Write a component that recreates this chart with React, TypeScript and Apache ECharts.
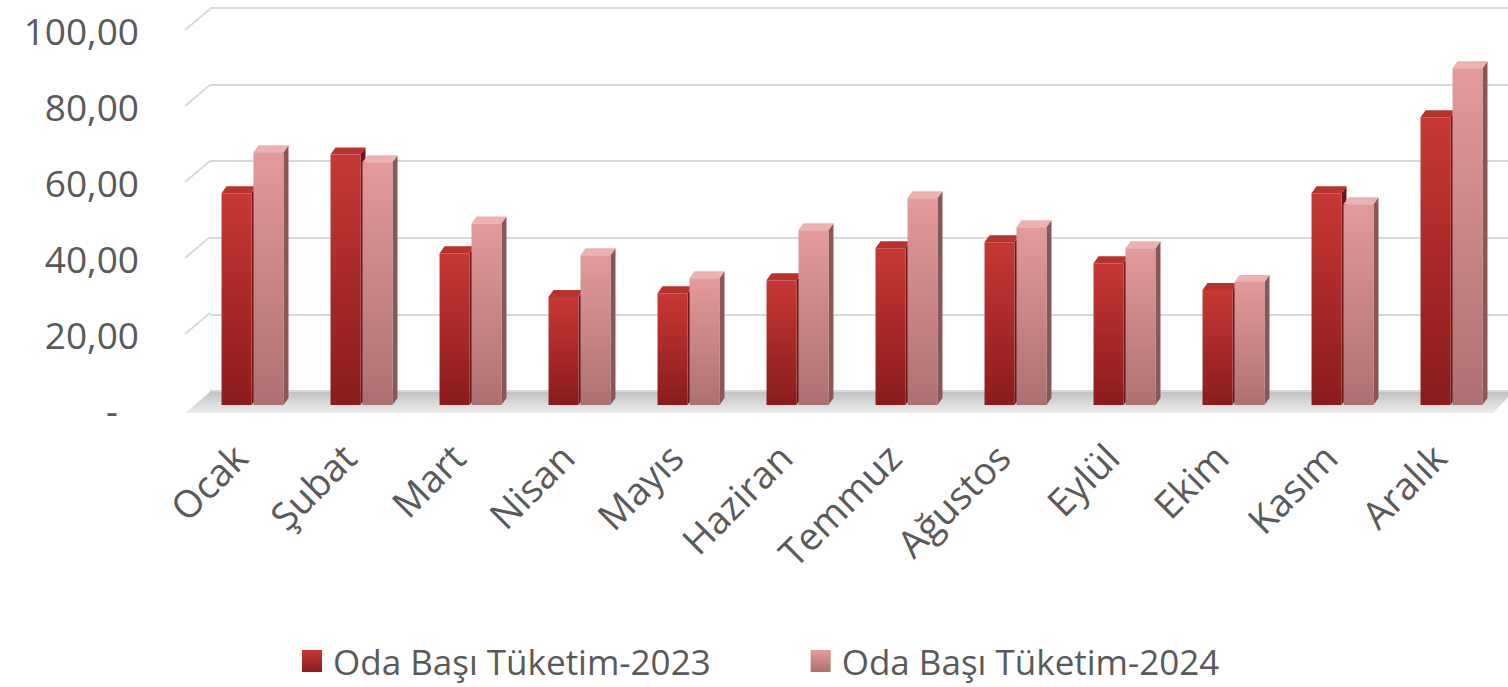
import React, { useEffect, useRef } from "react";
import * as echarts from "echarts";

const months = ["Ocak", "Şubat", "Mart", "Nisan", "Mayıs", "Haziran", "Temmuz", "Ağustos", "Eylül", "Ekim", "Kasım", "Aralık"];
const values2023 = [55.3, 65.4, 39.6, 28.2, 29.2, 32.6, 40.9, 42.5, 37.0, 30.0, 55.3, 75.1];
const values2024 = [66.0, 63.4, 47.4, 39.1, 33.1, 45.6, 54.0, 46.4, 40.9, 32.1, 52.4, 87.9];
const seriesNames = ["Oda Başı Tüketim-2023", "Oda Başı Tüketim-2024"];
const yTicks = [0, 20, 40, 60, 80, 100];

const FONT = "Open Sans";
const TEXT = "#595959";

const palettes = [
  { frontTop: "#c63834", frontBottom: "#8a1c1c", top: "#b8322e", side: "#6d1616" },
  { frontTop: "#e39a9a", frontBottom: "#ad7070", top: "#ecb2b2", side: "#8a5656" },
];

const vgrad = (a: string, b: string) => ({
  type: "linear", x: 0, y: 0, x2: 0, y2: 1,
  colorStops: [{ offset: 0, color: a }, { offset: 1, color: b }],
});

function makeBarRender(s: number) {
  return (params: any, api: any) => {
    const ci = api.value(0);
    const v = api.value(1);
    const top = api.coord([ci, v]);
    const base = api.coord([ci, 0]);
    const catW = api.size([1, 0])[0];
    const bw = catW * 0.275;
    const c = top[0];
    const x0 = s === 0 ? c - bw - 1 : c + 1;
    const x1 = x0 + bw;
    const dx = 5;
    const dy = 7;
    const p = palettes[s];
    return {
      type: "group",
      children: [
        {
          type: "polygon",
          shape: { points: [[x1, top[1]], [x1 + dx, top[1] - dy], [x1 + dx, base[1] - dy], [x1, base[1]]] },
          style: { fill: p.side },
        },
        {
          type: "polygon",
          shape: { points: [[x0, top[1]], [x0 + dx, top[1] - dy], [x1 + dx, top[1] - dy], [x1, top[1]]] },
          style: { fill: p.top },
        },
        {
          type: "rect",
          shape: { x: x0, y: top[1], width: bw, height: base[1] - top[1] },
          style: { fill: vgrad(p.frontTop, p.frontBottom) },
        },
      ],
    };
  };
}

export default function App() {
  const ref = useRef<HTMLDivElement>(null);
  useEffect(() => {
    const chart = echarts.init(ref.current!, undefined, { renderer: "svg" });
    const option: any = {
      animation: false,
      backgroundColor: "#ffffff",
      textStyle: { fontFamily: FONT },
      grid: [
        { left: 198, right: 2, top: 22, height: 383 },
        { left: 210, right: 0, top: 8, height: 383 },
        { left: 185, right: 15, top: 30, height: 380 },
      ],
      xAxis: [
        { gridIndex: 0, type: "category", data: months, show: false },
        { gridIndex: 1, type: "value", min: 0, max: 1, show: false },
        {
          gridIndex: 2, type: "category", data: months,
          axisLine: { show: false }, axisTick: { show: false },
          axisLabel: { rotate: 45, margin: 40, fontSize: 38, color: TEXT, fontFamily: FONT, interval: 0 },
        },
      ],
      yAxis: [
        { gridIndex: 0, type: "value", min: 0, max: 100, interval: 20, show: false },
        {
          gridIndex: 1, type: "value", min: 0, max: 100, interval: 20,
          axisLabel: { show: false }, axisLine: { show: false }, axisTick: { show: false },
          splitLine: { show: true, lineStyle: { color: "#d9d9d9", width: 2 } },
        },
        {
          gridIndex: 2, type: "value", min: 0, max: 100, interval: 20,
          axisLine: { show: false }, axisTick: { show: false }, splitLine: { show: false },
          axisLabel: {
            margin: 46, fontSize: 37, color: TEXT, fontFamily: FONT,
            formatter: (v: number) => (v === 0 ? "-\u2007" : v.toFixed(2).replace(".", ",")),
          },
        },
      ],
      legend: {
        data: seriesNames.map((n, i) => ({
          name: n,
          itemStyle: { color: vgrad(palettes[i].frontTop, palettes[i].frontBottom) },
        })),
        left: 302, top: 641, padding: 0, icon: "rect", itemWidth: 20, itemHeight: 22, itemGap: 100,
        textStyle: { fontSize: 35, lineHeight: 40, color: TEXT, fontFamily: FONT, padding: [0, 0, 0, 6] },
        selectedMode: false,
      },
      series: [
        {
          type: "custom", name: "floor", xAxisIndex: 2, yAxisIndex: 2, z: 1, silent: true,
          data: [[0, 0]],
          renderItem: (params: any, api: any) => {
            const cs = params.coordSys;
            const y0 = api.coord([0, 0])[1];
            return {
              type: "polygon",
              shape: {
                points: [
                  [cs.x, y0 + 3], [cs.x + 25, y0 - 18],
                  [cs.x + cs.width + 20, y0 - 18], [cs.x + cs.width, y0 + 3],
                ],
              },
              style: { fill: vgrad("#c2c2c2", "#ededed") },
            };
          },
        },
        {
          type: "custom", name: "connectors", xAxisIndex: 2, yAxisIndex: 2, z: 1, silent: true,
          data: yTicks.filter((v) => v > 0).map((v) => [0, v]),
          renderItem: (params: any, api: any) => {
            const cs = params.coordSys;
            const y = api.coord([0, api.value(1)])[1];
            return {
              type: "line",
              shape: { x1: cs.x, y1: y, x2: cs.x + 25, y2: y - 21 },
              style: { stroke: "#d9d9d9", lineWidth: 2 },
            };
          },
        },
        ...[values2023, values2024].map((vals, s) => ({
          type: "custom",
          name: seriesNames[s],
          xAxisIndex: 0, yAxisIndex: 0, z: 3,
          itemStyle: { color: palettes[s].frontTop },
          encode: { x: 0, y: 1 },
          data: vals.map((v, i) => [i, v]),
          renderItem: makeBarRender(s),
        })),
      ],
    };
    chart.setOption(option);
    return () => chart.dispose();
  }, []);
  return (
    <div
      ref={ref}
      style={{ position: "fixed", left: 0, top: 0, width: 1508, height: 687, background: "#fff" }}
    />
  );
}
